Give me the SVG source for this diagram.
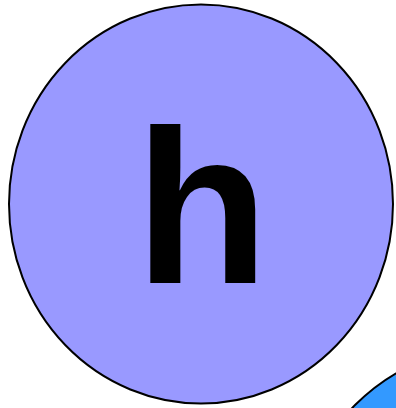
<svg xmlns="http://www.w3.org/2000/svg" width="396" height="408" viewBox="0 0 396 408">
<style>
.node{stroke:#000;stroke-width:2}
.lbl{font-family:"Liberation Sans",Arial,sans-serif;font-weight:bold;fill:#000;text-anchor:middle}
</style>
<rect width="396" height="408" fill="#fff"/>
<g id="node-h">
<ellipse class="node" cx="201" cy="204" rx="192" ry="199.5" fill="#9999ff"/>
<text class="lbl" x="202" y="283" font-size="219">h</text>
</g>
<g id="node-2">
<circle class="node" cx="497" cy="546" r="200" fill="#3399ff"/>
</g>
<g id="connectors"></g>
</svg>
